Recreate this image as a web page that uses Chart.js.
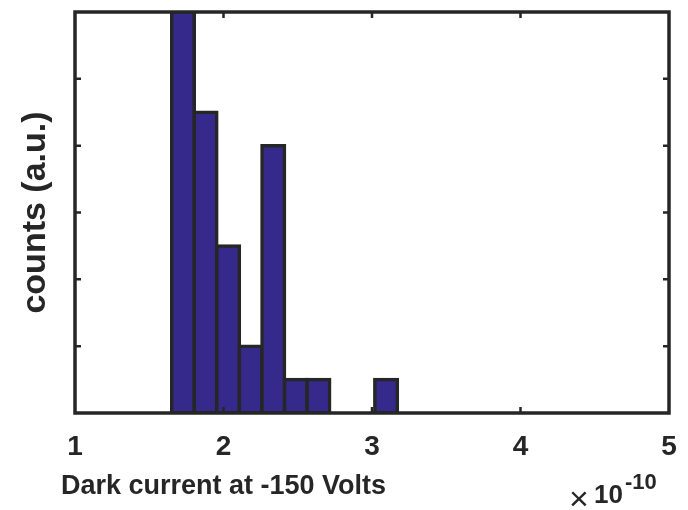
<!DOCTYPE html>
<html>
<head>
<meta charset="utf-8">
<script src="https://cdn.jsdelivr.net/npm/chart.js@4.4.0/dist/chart.umd.min.js"></script>
<style>
  html, body { margin: 0; padding: 0; background: #fff; }
  #wrap { width: 688px; height: 510px; }
</style>
</head>
<body>
<div id="wrap"><canvas id="hist"></canvas></div>
<script>
// bin centres (x 1e-10 A) and counts
const binCenters = [1.727, 1.879, 2.031, 2.183, 2.335, 2.487, 2.639, 2.791, 2.943, 3.095];
const counts = [12, 9, 5, 2, 8, 1, 1, 0, 0, 1];
const xTicks = [1, 2, 3, 4, 5];
const yTicks = [0, 2, 4, 6, 8, 10, 12];

const ink = '#262626';
const fam = '"Liberation Sans", Arial, sans-serif';

// matlab style box with inward ticks + x label and exponent
const boxPlugin = {
  id: 'box',
  afterDraw(chart) {
    const c = chart.ctx, a = chart.chartArea;
    const xs = chart.scales.x, ys = chart.scales.y;
    c.save();
    c.strokeStyle = ink;
    c.lineWidth = 3.5;
    c.strokeRect(a.left, a.top, a.right - a.left, a.bottom - a.top);
    c.lineWidth = 2.5;
    c.beginPath();
    yTicks.slice(1, -1).forEach(v => {
      const y = ys.getPixelForValue(v);
      c.moveTo(a.left, y); c.lineTo(a.left + 6, y);
      c.moveTo(a.right, y); c.lineTo(a.right - 6, y);
    });
    xTicks.slice(1, -1).forEach(v => {
      const x = xs.getPixelForValue(v);
      c.moveTo(x, a.bottom); c.lineTo(x, a.bottom - 6);
      c.moveTo(x, a.top); c.lineTo(x, a.top + 6);
    });
    c.stroke();

    c.fillStyle = ink;
    c.textBaseline = 'alphabetic';
    c.textAlign = 'left';
    c.font = 'bold 27px ' + fam;
    c.fillText('Dark current at -150 Volts', 61, 494);

    c.font = '34px ' + fam;
    c.fillText('\u00d7', 569, 510);
    c.font = 'bold 26px ' + fam;
    c.fillText('10', 594, 503);
    c.font = 'bold 22px ' + fam;
    c.fillText('-10', 625, 489);
    c.restore();
  }
};

new Chart(document.getElementById('hist'), {
  type: 'bar',
  data: {
    datasets: [{
      data: binCenters.map((x, i) => ({ x: x, y: counts[i] })),
      backgroundColor: '#352a8c',
      borderColor: ink,
      borderWidth: 3.5,
      inflateAmount: 1.75,
      borderSkipped: false,
      barPercentage: 1,
      categoryPercentage: 1
    }]
  },
  plugins: [boxPlugin],
  options: {
    responsive: true,
    maintainAspectRatio: false,
    animation: false,
    layout: { padding: { top: 12, right: 19, left: 0, bottom: 0 } },
    plugins: {
      legend: { display: false },
      tooltip: { enabled: false }
    },
    scales: {
      x: {
        type: 'linear',
        offset: false,
        min: 1,
        max: 5,
        afterBuildTicks: s => { s.ticks = xTicks.map(v => ({ value: v })); },
        grid: { display: false, drawTicks: false },
        border: { display: false },
        ticks: {
          color: ink,
          padding: 17,
          maxRotation: 0,
          font: { family: fam, size: 28, weight: 'bold' }
        },
        afterFit: s => { s.height = 97; s.paddingLeft = 0; s.paddingRight = 0; }
      },
      y: {
        min: 0,
        max: 12,
        afterBuildTicks: s => { s.ticks = yTicks.map(v => ({ value: v })); },
        grid: { display: false, drawTicks: false },
        border: { display: false },
        ticks: { display: false },
        title: {
          display: true,
          text: 'counts (a.u.)',
          color: ink,
          padding: { top: 15, bottom: 0 },
          font: { family: fam, size: 34, weight: 'bold' }
        },
        afterFit: s => { s.width = 75; }
      }
    }
  }
});
</script>
</body>
</html>
